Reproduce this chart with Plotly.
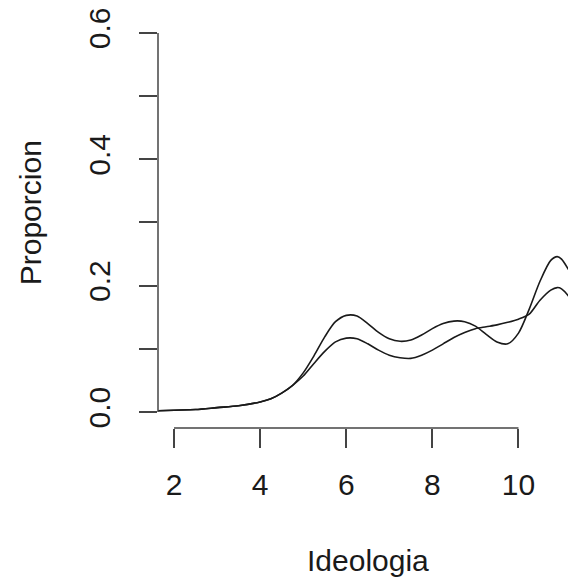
import plotly.graph_objects as go

# Ideologia grid (x values)
ideologia = [1.63, 2.0, 2.5, 3.0, 3.5, 4.0, 4.25, 4.5, 4.75, 5.0, 5.25, 5.5, 5.75,
             6.0, 6.25, 6.5, 6.75, 7.0, 7.25, 7.5, 7.75, 8.0, 8.25, 8.5, 8.75,
             9.0, 9.25, 9.5, 9.75, 10.0, 10.25, 10.5, 10.75, 10.9, 11.0, 11.25, 11.4]

# Density curve 1 (higher peaks at 6 and 11)
proporcion_a = [0.002, 0.003, 0.004, 0.007, 0.010, 0.016, 0.021, 0.030, 0.042, 0.062, 0.089, 0.119, 0.143,
                0.153, 0.152, 0.140, 0.126, 0.116, 0.112, 0.114, 0.122, 0.132, 0.140, 0.144, 0.143,
                0.136, 0.123, 0.111, 0.108, 0.125, 0.163, 0.207, 0.240, 0.246, 0.242, 0.215, 0.195]

# Density curve 2 (lower peaks)
proporcion_b = [0.002, 0.003, 0.004, 0.007, 0.010, 0.016, 0.021, 0.030, 0.042, 0.057, 0.077, 0.096, 0.111,
                0.117, 0.116, 0.108, 0.098, 0.090, 0.086, 0.085, 0.090, 0.098, 0.108, 0.118, 0.126,
                0.132, 0.135, 0.138, 0.142, 0.147, 0.155, 0.177, 0.193, 0.197, 0.195, 0.175, 0.155]

x_ticks = [2, 4, 6, 8, 10]
y_ticks = [0.0, 0.1, 0.2, 0.3, 0.4, 0.5, 0.6]
y_tick_text = ["0.0", "", "0.2", "", "0.4", "", "0.6"]

FONT = "Liberation Sans, Arial, sans-serif"
FS = 30
INK = "#1a1a1a"
AX = "#444"

fig = go.Figure()
for ys in (proporcion_a, proporcion_b):
    fig.add_trace(go.Scatter(x=ideologia, y=ys, mode="lines",
                             line=dict(color=INK, width=1.6, shape="spline", smoothing=0.8),
                             showlegend=False, hoverinfo="skip"))

fig.update_layout(
    width=568, height=575,
    margin=dict(l=150, r=0, t=8, b=155),
    paper_bgcolor="white", plot_bgcolor="white",
    font=dict(family=FONT, size=FS, color=INK),
    xaxis=dict(range=[1.628, 11.336], showgrid=False, zeroline=False, showline=False,
               tickvals=x_ticks, ticks="outside", ticklen=19, tickwidth=1.5, tickcolor=AX,
               ticklabelstandoff=11, ticklabeloverflow="allow",
               tickfont=dict(size=FS, family=FONT, color=INK)),
    yaxis=dict(range=[-0.0252, 0.6236], showgrid=False, zeroline=False, showline=False,
               tickvals=y_ticks, ticktext=y_tick_text, ticks="outside", ticklen=18,
               tickwidth=1.5, tickcolor=AX, tickangle=-90, ticklabelstandoff=17,
               ticklabeloverflow="allow",
               tickfont=dict(size=FS, family=FONT, color=INK)),
    shapes=[
        dict(type="line", xref="x", yref="paper", x0=2, x1=10, y0=0, y1=0,
             line=dict(color=AX, width=1.5)),
        dict(type="line", xref="paper", yref="y", x0=0, x1=0, y0=0, y1=0.6,
             line=dict(color=AX, width=1.5)),
    ],
    annotations=[
        dict(text="Ideologia", xref="paper", yref="paper", x=0.502, y=-0.322,
             xanchor="center", yanchor="middle", showarrow=False,
             font=dict(size=FS, family=FONT, color=INK)),
        dict(text="Proporcion", xref="paper", yref="paper", x=-0.306, y=0.524,
             xanchor="center", yanchor="middle", textangle=-90, showarrow=False,
             font=dict(size=FS, family=FONT, color=INK)),
    ],
)

fig.write_html("out.html")
